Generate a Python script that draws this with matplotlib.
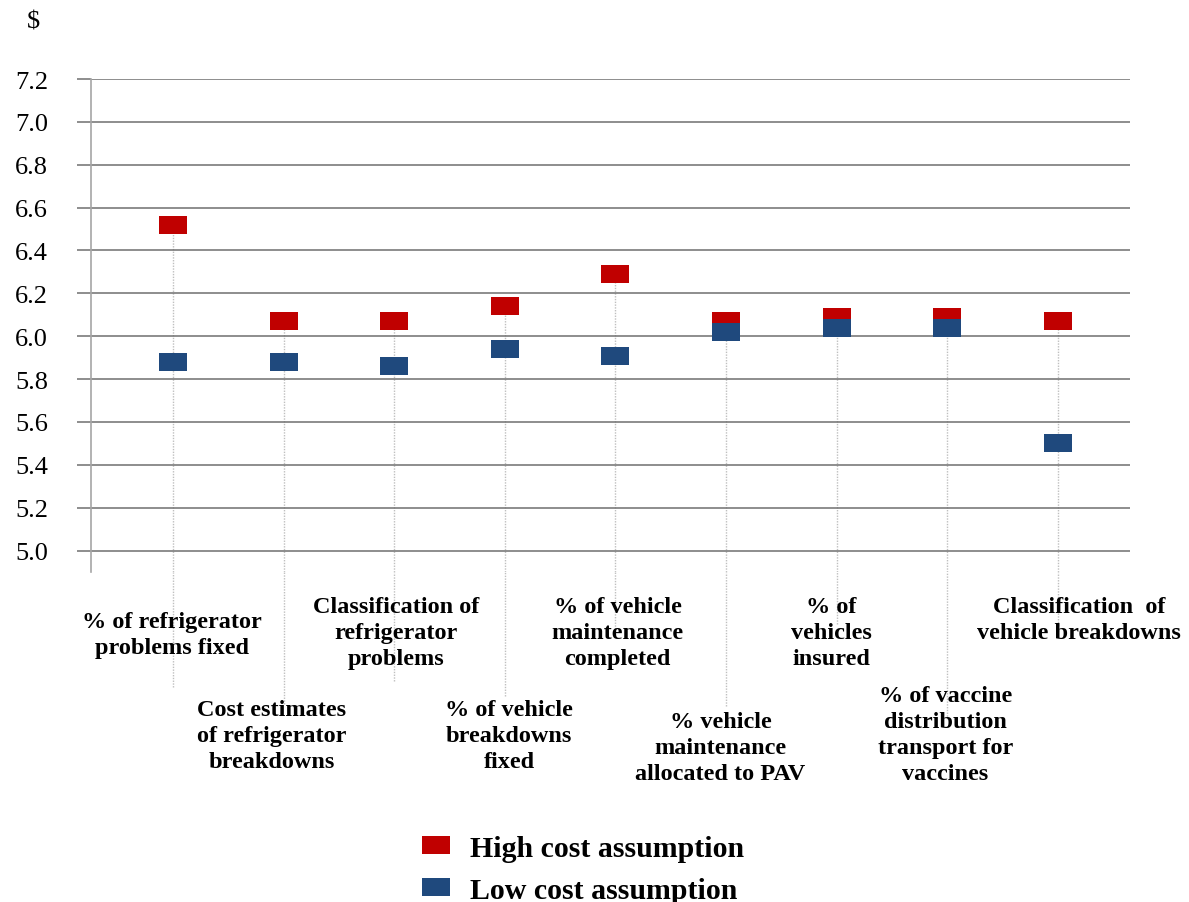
import numpy as np
import matplotlib.pyplot as plt

# data
categories = [
    "% of refrigerator\nproblems fixed",
    "Cost estimates\nof refrigerator\nbreakdowns",
    "Classification of\nrefrigerator\nproblems",
    "% of vehicle\nbreakdowns\nfixed",
    "% of vehicle\nmaintenance\ncompleted",
    "% vehicle\nmaintenance\nallocated to PAV",
    "% of\nvehicles\ninsured",
    "% of vaccine\ndistribution\ntransport for\nvaccines",
    "Classification  of\nvehicle breakdowns",
]
high_cost = [6.52, 6.07, 6.07, 6.14, 6.29, 6.07, 6.09, 6.09, 6.07]
low_cost = [5.88, 5.88, 5.86, 5.94, 5.91, 6.02, 6.04, 6.04, 5.50]
yticks = [5.0, 5.2, 5.4, 5.6, 5.8, 6.0, 6.2, 6.4, 6.6, 6.8, 7.0, 7.2]

# layout: where the dotted drop lines stop and where each label sits (axes fraction)
drop_end = [-0.233, -0.268, -0.221, -0.252, -0.116, -0.272, -0.105, -0.298, -0.119]
label_x = [-0.01, -0.11, 0.02, 0.04, 0.02, -0.05, -0.05, -0.02, 0.19]
label_y = [-0.079, -0.257, -0.049, -0.257, -0.049, -0.282, -0.049, -0.229, -0.049]

RED = '#C00000'
BLUE = '#1F497D'
GRID = '#6F6F6F'

fig = plt.figure(figsize=(11.89, 9.03), dpi=100)
ax = fig.add_axes([0.0765, 0.3654, 0.8739, 0.546])

x = np.arange(len(categories))
rect = [(-1.5, -1), (1.5, -1), (1.5, 1), (-1.5, 1), (-1.5, -1)]

# dotted drop lines, from the top marker down into the label area
trans = ax.get_xaxis_transform()
for i in range(len(x)):
    ax.plot([x[i], x[i]], [drop_end[i], 0], transform=trans, color='#BFBFBF',
            lw=1, ls=(0, (1, 1)), clip_on=False, zorder=1)
    ax.plot([x[i], x[i]], [4.9, max(high_cost[i], low_cost[i])], color='#BFBFBF',
            lw=1, ls=(0, (1, 1)), zorder=1)

ax.plot(x, high_cost, ls='none', marker=rect, ms=20.2, mew=0, color=RED,
        label='High cost assumption', zorder=3)
ax.plot(x, low_cost, ls='none', marker=rect, ms=20.2, mew=0, color=BLUE,
        label='Low cost assumption', zorder=4)

ax.set_xlim(-0.74, 8.65)
ax.set_ylim(4.9, 7.2)
ax.set_yticks(yticks)
ax.set_yticklabels([f'{v:.1f}' for v in yticks], family='Liberation Serif', fontsize=19)
ax.set_xticks([])
ax.grid(axis='y', color=GRID, lw=1.1, zorder=0)
ax.tick_params(axis='y', length=10, width=1.1, color=GRID, pad=21)
for s in ['top', 'right', 'bottom']:
    ax.spines[s].set_visible(False)
ax.spines['left'].set_color('#A6A6A6')
ax.spines['left'].set_linewidth(1.2)

for i, lab in enumerate(categories):
    ax.text(x[i] + label_x[i], label_y[i], lab, transform=trans, ha='center', va='top',
            family='Liberation Serif', fontweight='bold', fontsize=17.5,
            linespacing=1.32, multialignment='center', zorder=5)

fig.text(0.028, 0.975, '$', family='Liberation Serif', fontsize=19, ha='center', va='center')

fig.legend(loc='upper left', bbox_to_anchor=(0.354, 0.0745), bbox_transform=fig.transFigure,
           frameon=False, prop={'family': 'Liberation Serif', 'weight': 'bold', 'size': 21.5},
           handlelength=1.0, handletextpad=0.63, labelspacing=0.5, borderpad=0,
           borderaxespad=0)

fig.savefig('out.png', dpi=100)
